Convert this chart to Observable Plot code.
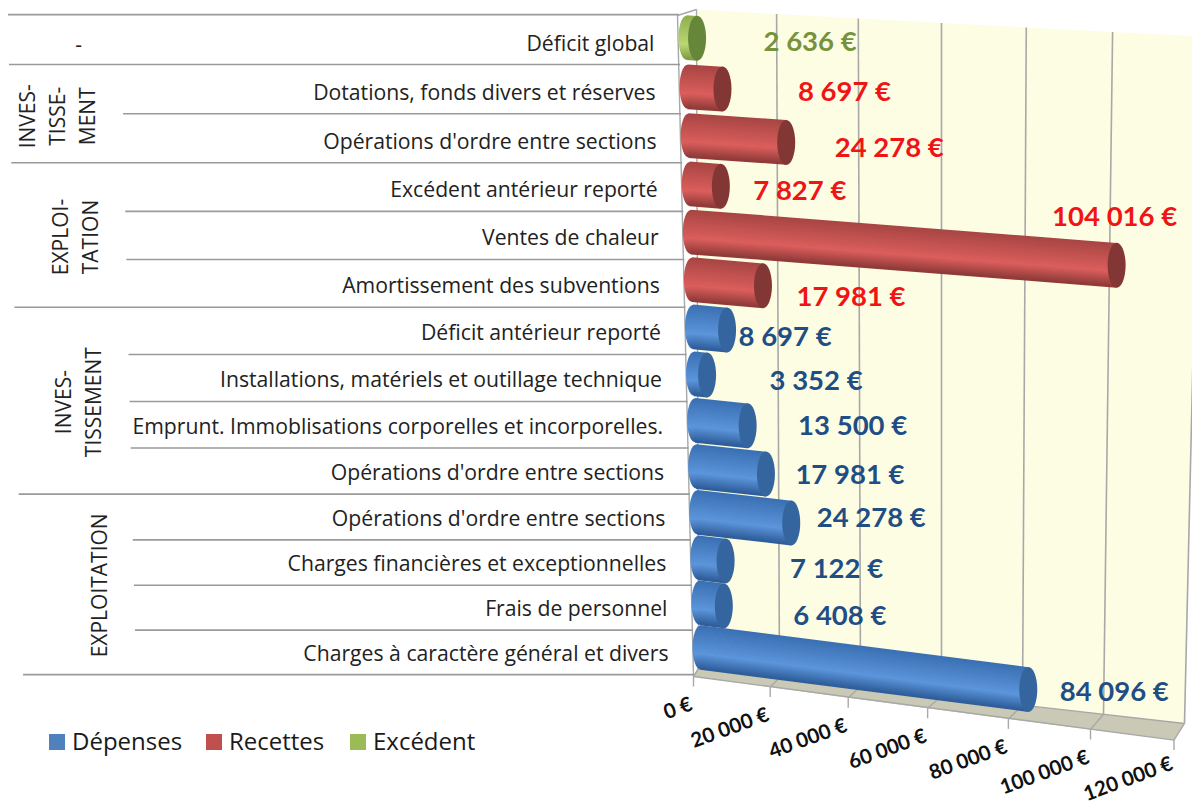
<!DOCTYPE html>
<html lang="fr"><head><meta charset="utf-8">
<script src="https://cdn.jsdelivr.net/npm/d3@7"></script>
<script src="https://cdn.jsdelivr.net/npm/@observablehq/plot@0.6"></script>
<style>
html,body{margin:0;padding:0;background:#fff}
#wrap{position:relative;width:1192px;height:807px;overflow:hidden}
.lg{position:absolute;top:724px;font:24px "Open Sans",sans-serif;color:#1a1a1a;white-space:nowrap}
.sq{position:absolute;top:734px;width:16px;height:16px}
</style></head><body><div id="wrap"></div>
<script>
// ---------- data (listed from the top row of the chart downward)
const categories = ["Déficit global","Dotations, fonds divers et réserves","Opérations d'ordre entre sections","Excédent antérieur reporté","Ventes de chaleur","Amortissement des subventions","Déficit antérieur reporté","Installations, matériels et outillage technique","Emprunt. Immoblisations corporelles et incorporelles.","Opérations d'ordre entre sections","Opérations d'ordre entre sections","Charges financières et exceptionnelles","Frais de personnel","Charges à caractère général et divers"];
const values = [2636,8697,24278,7827,104016,17981,8697,3352,13500,17981,24278,7122,6408,84096];
const series = ["Excédent","Recettes","Recettes","Recettes","Recettes","Recettes","Dépenses","Dépenses","Dépenses","Dépenses","Dépenses","Dépenses","Dépenses","Dépenses"];
const axisTicks = [0,20000,40000,60000,80000,100000,120000];
const groupNames = ["-","INVES-\nTISSE-\nMENT","EXPLOI-\nTATION","INVES-\nTISSEMENT","EXPLOITATION"];
const groupRows = [13,11.5,9,5.5,1.5];
const groupX = [78,55,73,76,97];
const majorRules = [-0.5,3.5,7.5,10.5,12.5,13.5];
const minorRules = [0.5,1.5,2.5,4.5,5.5,6.5,8.5,9.5,11.5];
// ---------- style & label offsets
const labelDx = [113,122,103,79,-2,88,58,109,105,84,80,111,116,86];
const labelDy = [4,3,6,5,-48,11,7,6,0,1,-5,8,10,3];
const tickDy = [27,27,27,27,27,27,23];
const shades = {
  "Dépenses":{top:"#3a6fb2",light:"#5c95db",bottom:"#2c5a96",cap:"#35659f",text:"#1f4e85",key:"#4f81bd"},
  "Recettes":{top:"#a64543",light:"#db5e5c",bottom:"#8b3937",cap:"#833735",text:"#f01414",key:"#c0504d"},
  "Excédent":{top:"#8fae4e",light:"#b9d873",bottom:"#7b9a42",cap:"#66863a",text:"#76923c",key:"#9bbb59"}
};
const FONT='"Open Sans",sans-serif', BOLD='Lato,sans-serif';

// ---------- perspective helpers: everything below lands in the x (euro) and y (depth) scales
const depth = r => r + 0.00416*r*r;
const U = px => (px-701)/3.91*1000;          // screen distance to euro-scale units
const V = py => (647-py)/44.5;               // screen height to depth-scale units
const barX = (e,r) => {const k=e/1000;return -276*r - 256 + k*(3.78+0.0187*r+0.0014*k)/3.91*1000;};
const barY = (e,r) => depth(r) - (e/1000)*(0.5-0.02*r)/44.5;
const edgeX = r => -276*r - 8/3.91*1000;     // left face of the chart at row r

const rows = categories.map((name,i)=>({name,value:values[i],series:series[i],r:13-i,i}));
rows.forEach(d=>{d.x0=barX(0,d.r);d.y0=barY(0,d.r);d.x1=barX(d.value,d.r);d.y1=barY(d.value,d.r);});

const wallTop = e=>{const k=e/1000;return {x:U(696+3.967*k+0.00194*k*k),y:V(9+0.225*k),e};};
const wallBack = e=>{const k=e/1000;return {x:U(698+4.05*k),y:V(668+0.458*k),e};};
const floorFront = e=>{const k=e/1000;return {x:U(693+3.8*k+0.0017*k*k),y:V(676+0.53*k),e};};
const corner = {x:U(677),y:V(15)};
const tickEnd = p=>({x:p.x,y:p.y-10/44.5});

// cylinder strips
const N=24, H=44;
const stripColor=(s,t)=>{const c=shades[s];return t<0.65?d3.interpolateRgb(c.top,c.light)(t/0.65):d3.interpolateRgb(c.light,c.bottom)((t-0.65)/0.35);};
const strips=[];
for(const d of rows) for(let i=0;i<N;i++){const t=(i+.5)/N,o=(t-.5)*H/44.5;
  strips.push({x1:d.x0,x2:d.x1,y1:d.y0-o,y2:d.y1-o,c:stripColor(d.series,t)});}

const ellipse=(rx,ry)=>({draw(c){const k=.5523;c.moveTo(rx,0);
  c.bezierCurveTo(rx,ry*k,rx*k,ry,0,ry);c.bezierCurveTo(-rx*k,ry,-rx,ry*k,-rx,0);
  c.bezierCurveTo(-rx,-ry*k,-rx*k,-ry,0,-ry);c.bezierCurveTo(rx*k,-ry,rx,-ry*k,rx,0);c.closePath();}});

const rule=(r,w)=>{const yy=depth(r)-0.11+0.0004*r*r,xx=edgeX(r);return {x1:xx,x2:xx-w/3.91*1000,y:yy};};
const euro=v=>d3.format(",")(v).replace(/,/g," ")+" €";
const GRID="#a8a8a8";

const gridWall=axisTicks.slice(1).map(e=>({a:wallTop(e),b:wallBack(e)}));
const gridFloor=axisTicks.map(e=>({a:wallBack(e),b:floorFront(e)}));
const tickLines=axisTicks.map(e=>({a:floorFront(e),b:tickEnd(floorFront(e))}));
const segs=o=>({x1:d=>d.a.x,y1:d=>d.a.y,x2:d=>d.b.x,y2:d=>d.b.y,...o});

const wallPoly=[...axisTicks.map(wallTop),...axisTicks.slice().reverse().map(wallBack)];
const floorPoly=[...axisTicks.map(wallBack),...axisTicks.slice().reverse().map(floorFront)];

const plot=Plot.plot({
  width:1192,height:807,margin:0,
  x:{domain:[U(0),U(1192)],range:[0,1192],axis:null},
  y:{domain:[V(807),V(0)],range:[807,0],axis:null},
  color:{type:"identity"},
  style:{background:"transparent",fontFamily:FONT},
  marks:[
    Plot.line(wallPoly,{x:"x",y:"y",fill:"#fdfde4",stroke:"none"}),
    Plot.line(floorPoly,{x:"x",y:"y",fill:"#c9c9b5",stroke:"none"}),
    Plot.link(gridWall,segs({stroke:GRID,strokeWidth:1.6})),
    Plot.link(gridFloor,segs({stroke:GRID,strokeWidth:1.4})),
    Plot.link(tickLines,segs({stroke:GRID,strokeWidth:1.4})),
    // frame of the side wall and floor
    Plot.link([{a:corner,b:wallTop(0)},{a:corner,b:floorFront(0)},{a:wallTop(0),b:wallBack(0)},
               {a:floorFront(0),b:floorFront(120000)},{a:wallBack(0),b:floorFront(0)},{a:wallBack(0),b:wallBack(120000)}],
      segs({stroke:GRID,strokeWidth:1.4})),
    // table rules
    Plot.link(majorRules.map(r=>rule(r,671)),{x1:"x1",x2:"x2",y1:"y",y2:"y",stroke:"#9a9a9a",strokeWidth:1.6}),
    Plot.link(minorRules.map(r=>rule(r,558)),{x1:"x1",x2:"x2",y1:"y",y2:"y",stroke:"#9a9a9a",strokeWidth:1.6}),
    // category labels
    Plot.text(rows,{x:d=>edgeX(d.r),y:d=>depth(d.r),text:"name",textAnchor:"end",dx:-25,dy:6.5,fontSize:21.2,fill:"#222"}),
    // group labels
    Plot.text(groupNames.map((t,i)=>({t,r:groupRows[i],px:groupX[i]})),{x:d=>U(d.px),y:d=>depth(d.r),text:"t",rotate:d=>d.t==="-"?0:-90,
      dy:5,fontSize:21,lineHeight:1.43,lineAnchor:"middle",fill:"#222"}),
    // cylinders: rounded start, shaded body, flat end
    ...Object.keys(shades).map(s=>Plot.dot(rows.filter(d=>d.series===s),{x:"x0",y:"y0",symbol:ellipse(8,22),fill:`url(#g${Object.keys(shades).indexOf(s)})`,stroke:"none"})),
    Plot.link(strips,{x1:"x1",x2:"x2",y1:"y1",y2:"y2",stroke:"c",strokeWidth:2.6}),
    Plot.dot(rows,{x:"x1",y:"y1",symbol:ellipse(9,22.5),fill:d=>shades[d.series].cap,stroke:"none"}),
    // value labels
    ...rows.map(d=>Plot.text([d],{x:"x1",y:"y1",text:v=>euro(v.value),dx:labelDx[d.i],dy:labelDy[d.i],fill:shades[d.series].text,fontSize:27.5,fontWeight:700,fontFamily:BOLD})),
    // axis labels
    ...axisTicks.map((e,i)=>Plot.text([floorFront(e)],{x:"x",y:"y",text:d=>euro(d.e),textAnchor:"end",rotate:-20,dx:-2,dy:tickDy[i],fontSize:20.5,fontWeight:700,fontFamily:BOLD,fill:"#111"}))
  ]
});
// gradients for the rounded starts
const defs=d3.select(plot).insert("svg:defs",":first-child");
Object.keys(shades).forEach((s,i)=>{const c=shades[s];
  const g=defs.append("linearGradient").attr("id","g"+i).attr("x1",0).attr("y1",0).attr("x2",0).attr("y2",1);
  [[0,c.top],[.65,c.light],[1,c.bottom]].forEach(([o,col])=>g.append("stop").attr("offset",o).attr("stop-color",col));});
const wrap=document.getElementById("wrap");
wrap.appendChild(plot);
// legend
[["Dépenses",49,72],["Recettes",206,229],["Excédent",350,373]].forEach(([t,a,b])=>{
  const q=document.createElement("div");q.className="sq";q.style.left=a+"px";q.style.background=shades[t].key;wrap.appendChild(q);
  const l=document.createElement("div");l.className="lg";l.style.left=b+"px";l.textContent=t;wrap.appendChild(l);
});
</script></body></html>
